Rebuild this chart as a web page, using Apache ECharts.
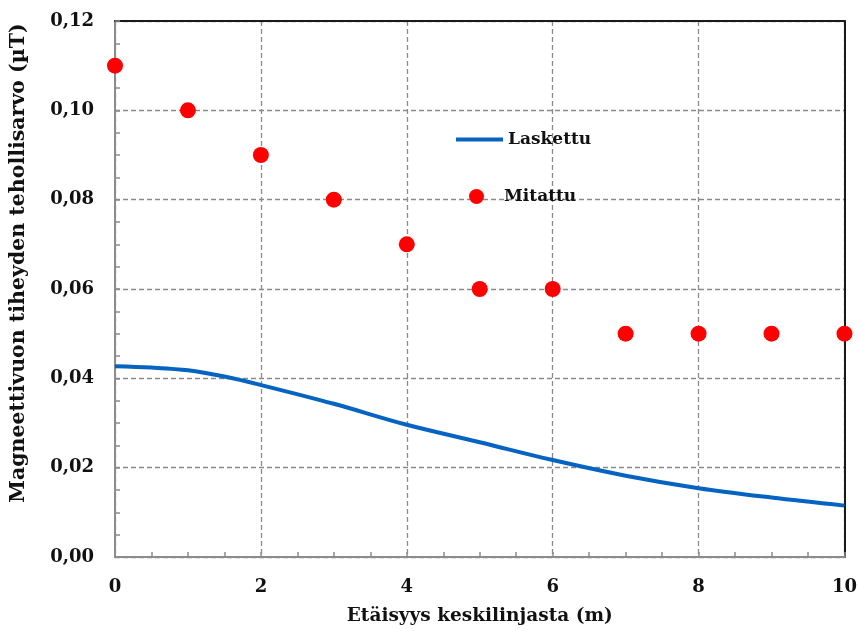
<!DOCTYPE html>
<html>
<head>
<meta charset="utf-8">
<script src="https://cdn.jsdelivr.net/npm/echarts@6/dist/echarts.min.js"></script>
<style>
html,body{margin:0;padding:0;background:#fff;}
#chart{width:860px;height:631px;}
</style>
</head>
<body>
<div id="chart"></div>
<script>
// Data
const measuredX = [0, 1, 2, 3, 4, 5, 6, 7, 8, 9, 10];
const measuredY = [0.11, 0.10, 0.09, 0.08, 0.07, 0.06, 0.06, 0.05, 0.05, 0.05, 0.05];
const calcX = [0, 0.5, 1, 1.5, 2, 3, 4, 5, 6, 7, 8, 9, 10];
const calcY = [0.0427, 0.0424, 0.0418, 0.0404, 0.0385, 0.0343, 0.0296, 0.0257, 0.0217, 0.0182, 0.0154, 0.0133, 0.0115];
const seriesNames = ['Laskettu', 'Mitattu'];
const xTitle = 'Etäisyys keskilinjasta (m)';
const yTitle = 'Magneettivuon tiheyden tehollisarvo (µT)';

const FONT = 'DejaVu Serif';
const chart = echarts.init(document.getElementById('chart'), null, {renderer: 'canvas'});
const gridLine = {show: true, lineStyle: {color: '#8a8a8a', width: 1.3, type: [5, 3]}};
const axisGray = {show: true, lineStyle: {color: '#8c8c8c', width: 2}};
const borderAxis = {show: true, onZero: false, lineStyle: {color: '#1a1a1a', width: 2}};
const legendText = {fontFamily: FONT, fontWeight: 'bold', fontSize: 17, color: '#111'};

chart.setOption({
  animation: false,
  backgroundColor: '#ffffff',
  grid: {left: 111, right: 13, top: 21, bottom: 73, containLabel: false},
  legend: [
    {data: [seriesNames[0]], left: 451, top: 126, icon: 'rect', itemWidth: 47, itemHeight: 4,
     textStyle: legendText},
    {data: [seriesNames[1]], left: 464, top: 183, icon: 'circle', itemWidth: 15, itemHeight: 15,
     textStyle: Object.assign({padding: [0, 0, 0, 15]}, legendText)}
  ],
  xAxis: [
    {type: 'value', min: 0, max: 10, interval: 2,
     name: xTitle, nameLocation: 'middle', nameGap: 50,
     nameTextStyle: {fontFamily: FONT, fontWeight: 'bold', fontSize: 18.5, color: '#111'},
     axisLine: axisGray,
     axisTick: {show: true, inside: true, length: 5, lineStyle: {color: '#8c8c8c', width: 1.5}},
     minorTick: {show: true, splitNumber: 4, length: 5, lineStyle: {color: '#8c8c8c', width: 1.5}},
     splitLine: gridLine,
     axisLabel: {margin: 21, fontFamily: FONT, fontWeight: 'bold', fontSize: 18, color: '#111'}},
    {type: 'value', min: 0, max: 10, position: 'top', axisLine: borderAxis,
     axisTick: {show: false}, axisLabel: {show: false}, splitLine: {show: false}}
  ],
  yAxis: [
    {type: 'value', min: 0, max: 0.12, interval: 0.02,
     name: yTitle, nameLocation: 'middle', nameGap: 86,
     nameTextStyle: {fontFamily: FONT, fontWeight: 'bold', fontSize: 20.5, color: '#111',
       padding: [0, 0, 0, 52]},
     axisLine: axisGray,
     axisTick: {show: true, inside: true, length: 5, lineStyle: {color: '#8c8c8c', width: 1.5}},
     minorTick: {show: true, splitNumber: 4, length: 5, lineStyle: {color: '#8c8c8c', width: 1.5}},
     splitLine: gridLine,
     axisLabel: {margin: 21, fontFamily: FONT, fontWeight: 'bold', fontSize: 18, color: '#111',
       formatter: v => v.toFixed(2).replace('.', ',')}},
    {type: 'value', min: 0, max: 0.12, position: 'right', axisLine: borderAxis,
     axisTick: {show: false}, axisLabel: {show: false}, splitLine: {show: false}}
  ],
  series: [
    {name: seriesNames[0], type: 'line', smooth: 0.35, symbol: 'none',
     data: calcX.map((x, i) => [x, calcY[i]]),
     lineStyle: {color: '#0563c1', width: 4}, itemStyle: {color: '#0563c1'}, z: 3},
    {name: seriesNames[1], type: 'scatter', symbol: 'circle', symbolSize: 16,
     data: measuredX.map((x, i) => [x, measuredY[i]]),
     itemStyle: {color: '#ff0000', opacity: 1}, z: 4}
  ]
});
</script>
</body>
</html>
